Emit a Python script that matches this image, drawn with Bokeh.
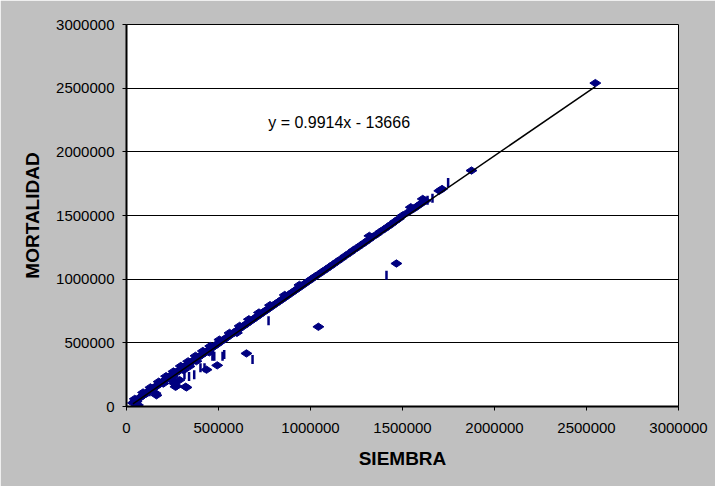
import math
from bokeh.plotting import figure
from bokeh.models import Range1d, FixedTicker, BasicTickFormatter, Label
from bokeh.embed import file_html
from bokeh.resources import INLINE

# Main cloud of points (diamonds) along the 1:1 line
siembra = [35000, 48000, 55000, 62000, 70000, 78000, 86000, 95000, 102000, 110000,
           118000, 126000, 134000, 142000, 150000, 158000, 172000, 180000, 188000, 196000,
           204000, 212000, 220000, 228000, 236000, 244000, 252000, 260000, 268000, 276000,
           284000, 292000, 300000, 310000, 320000, 330000, 340000, 350000, 360000, 370000,
           380000, 390000, 400000, 410000, 420000, 430000, 440000, 450000, 460000, 470000,
           480000, 490000, 500000, 512000, 524000, 536000, 548000, 560000, 572000, 584000,
           596000, 608000, 620000, 632000, 644000, 656000, 668000, 680000, 692000, 704000,
           716000, 728000, 740000, 752000, 764000, 776000, 790000, 805000, 820000, 835000,
           850000, 865000, 880000, 895000, 910000, 925000, 940000, 955000, 970000, 985000,
           1000000, 1015000, 1030000, 1048000, 1066000, 1085000, 1105000, 1125000, 1145000, 1165000,
           1190000, 1215000, 1235000, 1255000, 1275000, 1295000, 1315000, 1340000, 1360000, 1380000,
           1400000, 1420000, 1440000, 1460000, 1480000, 1500000, 1530000, 1560000, 1575000, 1590000,
           1605000, 1625000, 1700000, 1715000, 1875000, 2548000,
           45000, 90000, 130000, 175000, 215000, 255000, 295000, 335000, 375000, 415000,
           455000, 505000, 560000, 615000, 665000, 720000, 780000, 860000, 940000, 1320000,
           1545000, 1610000, 200000, 240000, 310000, 380000, 450000, 600000]
mortalidad = [28000, 45000, 40000, 12000, 66000, 75000, 84000, 92000, 100000, 104000,
              117000, 122000, 133000, 138000, 149000, 155000, 170000, 176000, 186000, 193000,
              203000, 208000, 219000, 224000, 235000, 240000, 251000, 256000, 266000, 272000,
              283000, 288000, 298000, 306000, 318000, 326000, 338000, 346000, 357000, 366000,
              378000, 386000, 397000, 406000, 418000, 426000, 437000, 446000, 458000, 466000,
              477000, 486000, 498000, 508000, 521000, 532000, 545000, 556000, 569000, 580000,
              593000, 604000, 617000, 628000, 641000, 652000, 665000, 676000, 689000, 700000,
              713000, 724000, 737000, 748000, 761000, 772000, 786000, 801000, 816000, 830000,
              846000, 860000, 876000, 890000, 906000, 920000, 936000, 950000, 966000, 980000,
              996000, 1010000, 1026000, 1042000, 1060000, 1078000, 1098000, 1118000, 1138000, 1158000,
              1184000, 1208000, 1230000, 1248000, 1268000, 1288000, 1308000, 1334000, 1352000, 1374000,
              1392000, 1412000, 1432000, 1454000, 1474000, 1500000, 1525000, 1552000, 1568000, 1582000,
              1598000, 1615000, 1694000, 1708000, 1853000, 2540000,
              60000, 110000, 150000, 195000, 238000, 275000, 318000, 355000, 398000, 436000,
              475000, 525000, 578000, 633000, 685000, 738000, 796000, 876000, 955000, 1340000,
              1565000, 1630000, 180000, 215000, 285000, 356000, 425000, 578000]

# Points below the line (diamonds)
siembra_bajo = [158000, 163000, 250000, 259000, 266000, 272000, 288000, 321000, 326000, 342000,
                435000, 493000, 652000, 1043000, 1467000]
mortalidad_bajo = [104000, 88000, 235000, 182000, 155000, 160000, 208000, 155000, 150000, 315000,
                   289000, 323000, 417000, 626000, 1123000]

# Points drawn as short vertical strokes
siembra_trazo = [125000, 315000, 340000, 368000, 402000, 424000, 467000, 477000, 522000, 531000,
                 685000, 772000, 1413000, 1636000, 1663000, 1748000]
mortalidad_trazo = [115000, 249000, 235000, 249000, 305000, 305000, 395000, 395000, 395000, 409000,
                    369000, 674000, 1030000, 1620000, 1636000, 1759000]

tick_values = [0, 500000, 1000000, 1500000, 2000000, 2500000, 3000000]
pendiente = 0.9914
intercepto = -13666
ecuacion = "y = 0.9914x - 13666"

NAVY = "#000080"
FONT = "Liberation Sans"
GRAY = "silver"

# canvas at page (8, 8), 715 x 486; frame: x 134..686, y 32..406
p = figure(width=715, height=486, output_backend="svg", toolbar_location=None,
           x_range=Range1d(0, 3000000), y_range=Range1d(0, 3000000),
           min_border_left=126, min_border_right=37, min_border_top=24, min_border_bottom=80,
           background_fill_color="white", border_fill_color=GRAY, border_fill_alpha=1.0,
           outline_line_color="black", outline_line_width=1)

for ax in (p.xaxis[0], p.yaxis[0]):
    ax.ticker = FixedTicker(ticks=tick_values)
    ax.formatter = BasicTickFormatter(use_scientific=False)
    ax.major_tick_in = 0
    ax.major_tick_out = 4
    ax.major_tick_line_width = 1
    ax.major_tick_line_color = "black"
    ax.minor_tick_line_color = None
    ax.axis_line_width = 2
    ax.axis_line_color = "black"
    ax.major_label_text_font = FONT
    ax.major_label_text_font_size = "15px"
    ax.major_label_text_color = "black"
    ax.axis_label_text_font = FONT
    ax.axis_label_text_font_size = "19px"
    ax.axis_label_text_font_style = "bold"
    ax.axis_label_text_color = "black"

p.xaxis.axis_label = "SIEMBRA"
p.yaxis.axis_label = "MORTALIDAD"
p.xaxis.major_label_standoff = 12
p.xaxis.axis_label_standoff = 12
p.yaxis.major_label_standoff = 8
p.yaxis.axis_label_standoff = 10

p.xgrid.visible = False
p.ygrid.ticker = FixedTicker(ticks=tick_values)
p.ygrid.grid_line_color = "black"
p.ygrid.grid_line_width = 1
p.ygrid.grid_line_alpha = 1

p.scatter(siembra, mortalidad, marker="diamond", size=11, angle=math.pi / 2,
          fill_color=NAVY, line_color=NAVY)
p.scatter(siembra_bajo, mortalidad_bajo, marker="diamond", size=11, angle=math.pi / 2,
          fill_color=NAVY, line_color=NAVY)
p.scatter(siembra_trazo, mortalidad_trazo, marker="dash", size=9, angle=math.pi / 2,
          line_color=NAVY, line_width=2.5)

todos_x = siembra + siembra_bajo + siembra_trazo
x0, x1 = min(todos_x), max(todos_x)
p.line([x0, x1], [pendiente * x0 + intercepto, pendiente * x1 + intercepto],
       line_color="black", line_width=1.5)

p.add_layout(Label(x=770000, y=2227000, text=ecuacion, text_font=FONT,
                   text_font_size="16px", text_color="black",
                   text_align="left", text_baseline="alphabetic"))

open("out.html", "w").write(file_html(p, INLINE))
